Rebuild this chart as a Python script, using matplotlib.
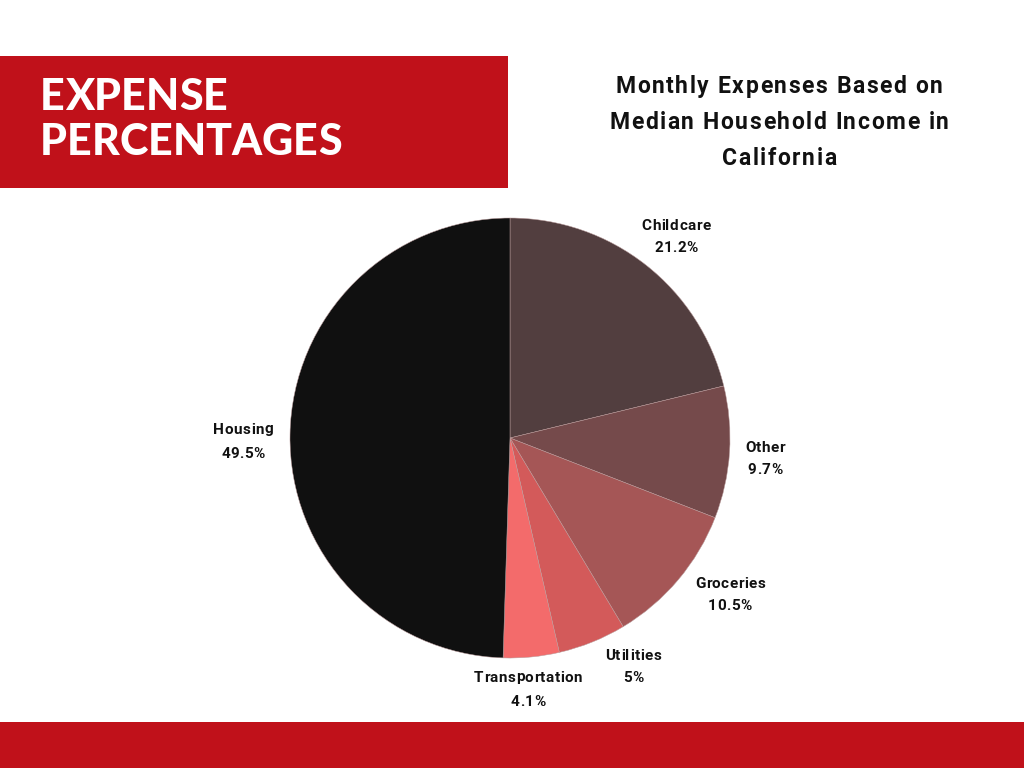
import matplotlib
matplotlib.use("Agg")
import matplotlib.pyplot as plt
from matplotlib.patches import Rectangle
from matplotlib.font_manager import FontProperties

# ---- data ----
categories = ["Childcare", "Other", "Groceries", "Utilities", "Transportation", "Housing"]
values = [21.2, 9.7, 10.5, 5, 4.1, 49.5]
value_labels = ["21.2%", "9.7%", "10.5%", "5%", "4.1%", "49.5%"]
colors = ["#523e3f", "#754a4b", "#a55656", "#d35a5a", "#f36b6b", "#101010"]

header_lines = ["EXPENSE", "PERCENTAGES"]
chart_title = ["Monthly Expenses Based on", "Median Household Income in", "California"]

W, H = 1024, 768
fig = plt.figure(figsize=(W / 100, H / 100), dpi=100)
fig.patch.set_facecolor("white")
renderer = fig.canvas.get_renderer()


def fx(x):
    return x / W


def fy(y):
    return 1 - y / H


def tracked_text(x, y, s, size, weight, family, color, tracking, ha="center"):
    """Draw text with extra letter spacing (pixel coords, y from top, baseline)."""
    prop = FontProperties(family=family, weight=weight, size=size)
    ref_w = renderer.get_text_width_height_descent("H", prop, ismath=False)[0]
    offs = []
    for i in range(len(s)):
        w = renderer.get_text_width_height_descent(s[:i] + "H", prop, ismath=False)[0] - ref_w
        offs.append(max(w, 0) + i * tracking)
    total = renderer.get_text_width_height_descent(s, prop, ismath=False)[0] + (len(s) - 1) * tracking
    x0 = x - total / 2 if ha == "center" else x
    for ch, o in zip(s, offs):
        if ch == " ":
            continue
        fig.text(fx(x0 + o), fy(y), ch, fontproperties=prop, color=color,
                 ha="left", va="baseline")


red = "#c0111a"
fig.patches.append(Rectangle((0, fy(188)), fx(508), (188 - 56) / H, transform=fig.transFigure,
                             facecolor=red, edgecolor="none", zorder=0))
fig.patches.append(Rectangle((0, 0), 1, (768 - 722) / H, transform=fig.transFigure,
                             facecolor=red, edgecolor="none", zorder=0))

for line, y in zip(header_lines, [110, 155]):
    tracked_text(40, y, line, 31, "black", ["Lato", "DejaVu Sans"], "white", 0.0, ha="left")

for line, y in zip(chart_title, [93, 129, 165]):
    tracked_text(779, y, line, 16.5, "bold", ["Roboto", "DejaVu Sans"], "#111111", 1.6)

# pie
cx, cy, r = 510, 438, 220
ax = fig.add_axes([fx(cx - r), fy(cy + r), 2 * r / W, 2 * r / H])
ax.pie(values, colors=colors, startangle=90, counterclock=False,
       wedgeprops=dict(edgecolor="#b89a9a", linewidth=0.35))
ax.set_xlim(-1, 1)
ax.set_ylim(-1, 1)
ax.set_aspect("equal")
ax.axis("off")

label_pos = {
    "Childcare": (676, 224, 247),
    "Other": (765, 447, 469),
    "Groceries": (730, 582, 604),
    "Utilities": (633, 655, 677),
    "Transportation": (528, 676, 701),
    "Housing": (243, 428, 452),
}
for cat, vl in zip(categories, value_labels):
    x, y1, y2 = label_pos[cat]
    for s, y in ((cat, y1), (vl, y2)):
        tracked_text(x, y + 5.5, s, 11, "bold", ["Roboto", "DejaVu Sans"], "#111111", 0.45)

fig.savefig("out.png", dpi=100)
